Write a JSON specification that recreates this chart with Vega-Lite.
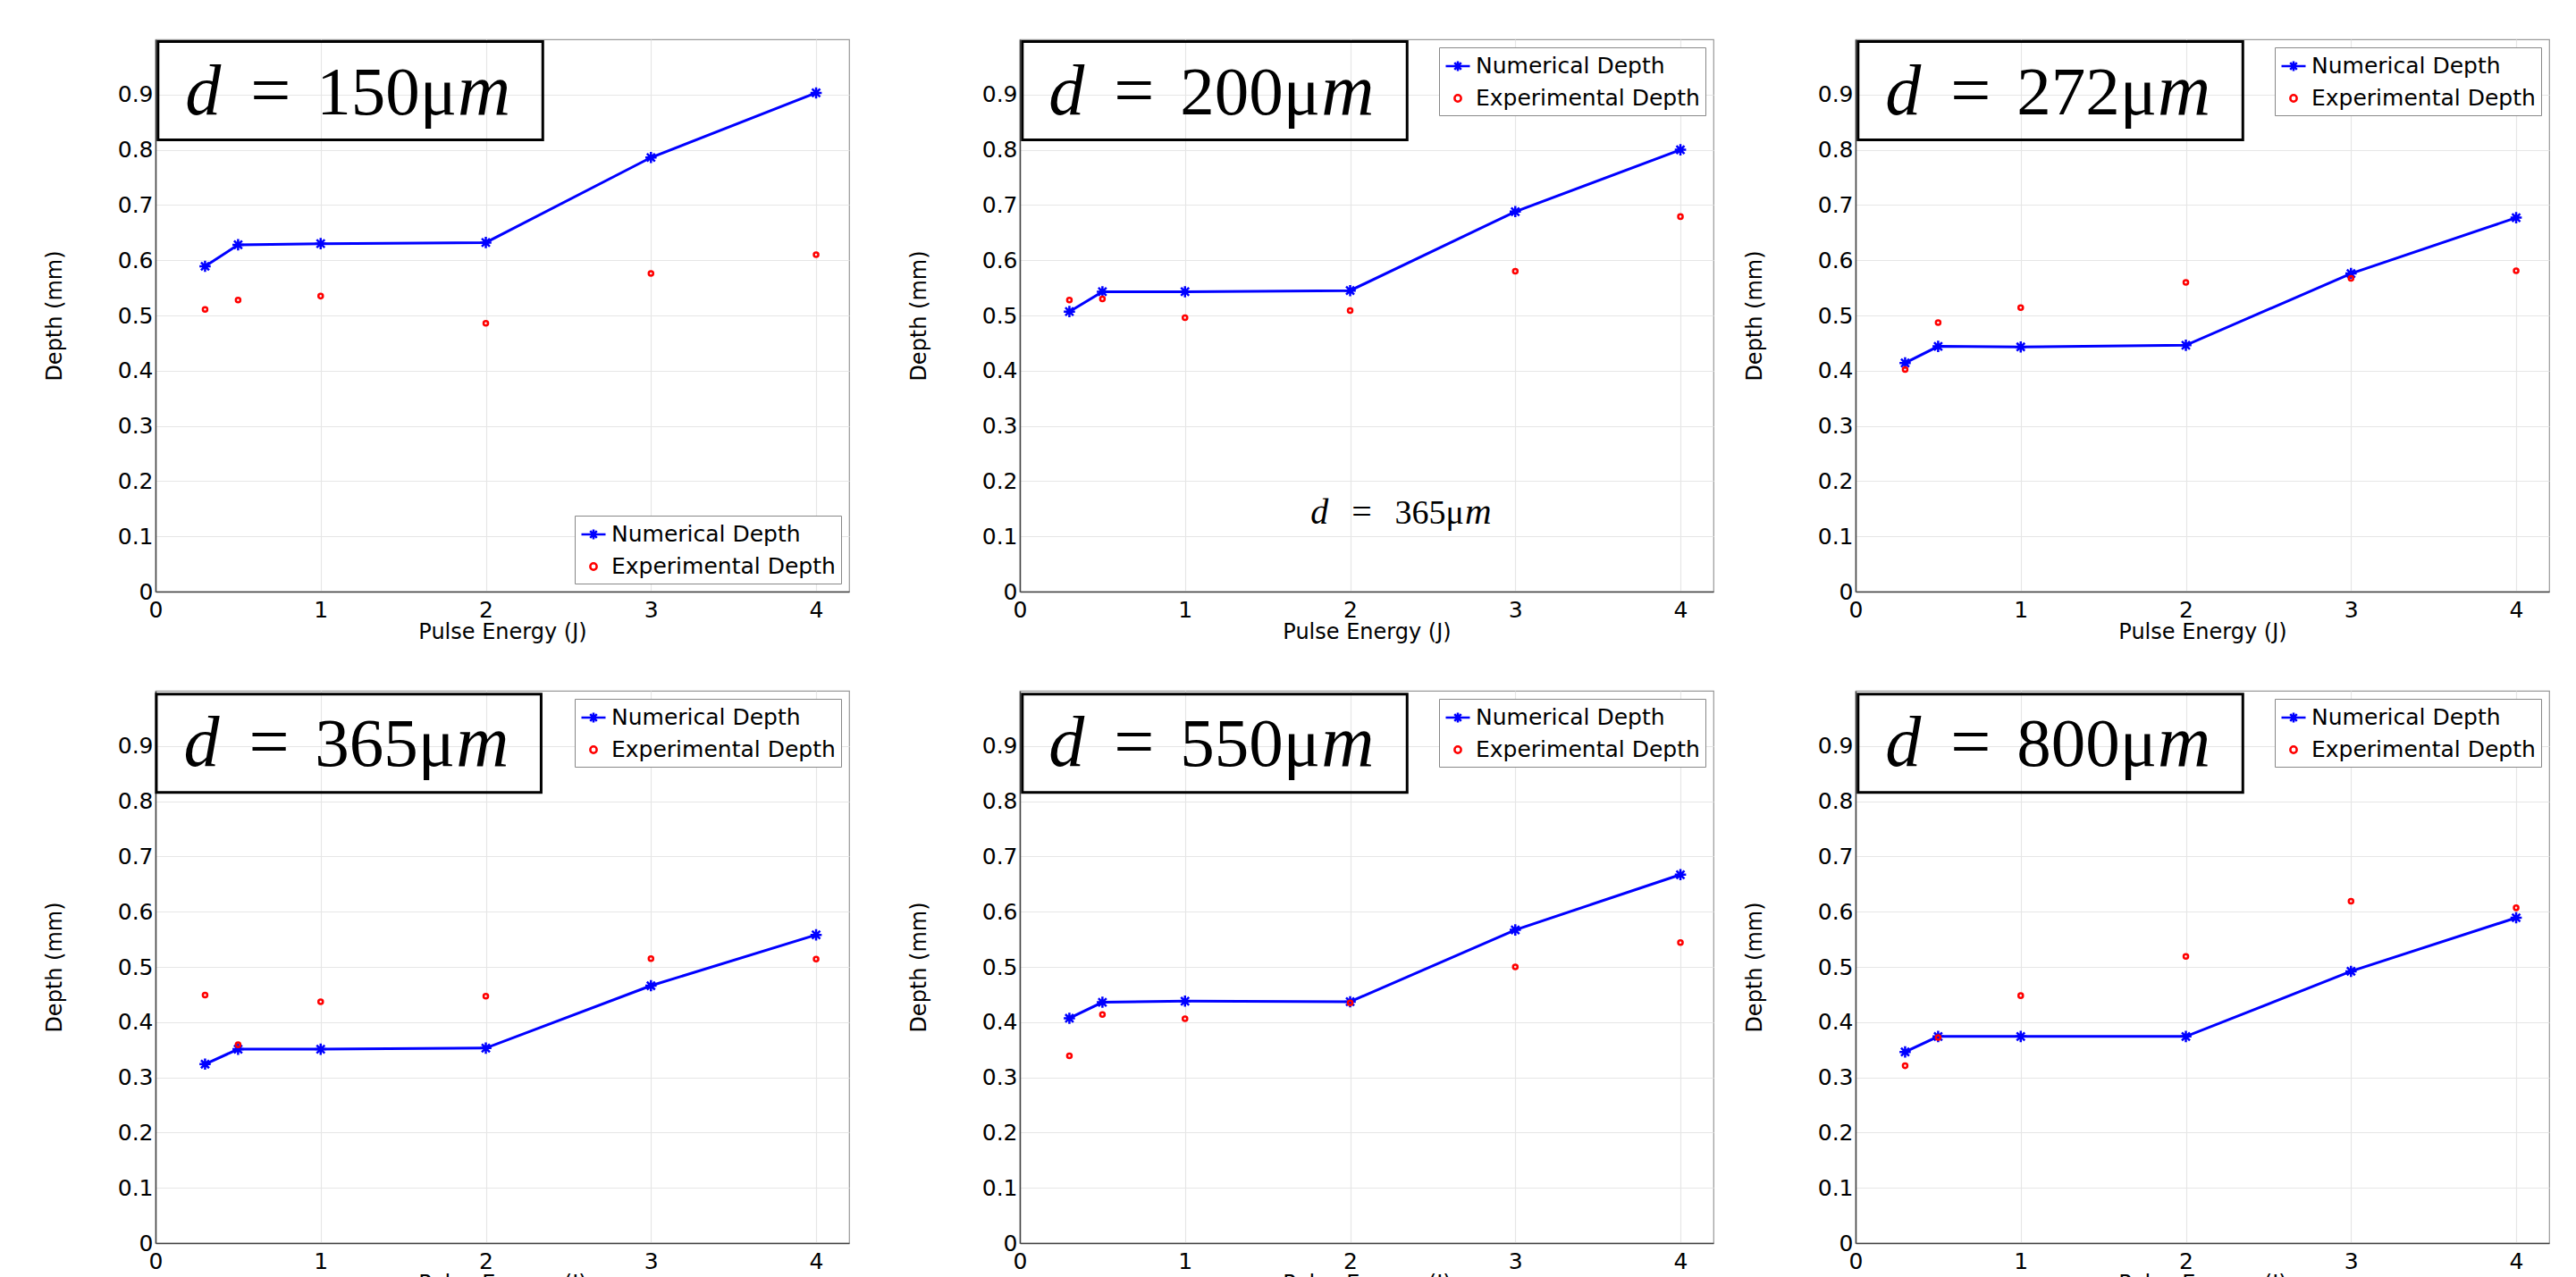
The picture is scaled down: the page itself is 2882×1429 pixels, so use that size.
{
"$schema": "https://vega.github.io/schema/vega-lite/v6.json",
"background": "white",
"padding": {"left": 48, "top": 43, "right": 0, "bottom": 0},
"data": {"values": [
{"panel":"150","series":"Numerical Depth","energy":0.3,"depth":0.589},
{"panel":"150","series":"Numerical Depth","energy":0.5,"depth":0.628},
{"panel":"150","series":"Numerical Depth","energy":1,"depth":0.630},
{"panel":"150","series":"Numerical Depth","energy":2,"depth":0.632},
{"panel":"150","series":"Numerical Depth","energy":3,"depth":0.786},
{"panel":"150","series":"Numerical Depth","energy":4,"depth":0.903},
{"panel":"150","series":"Experimental Depth","energy":0.3,"depth":0.511},
{"panel":"150","series":"Experimental Depth","energy":0.5,"depth":0.528},
{"panel":"150","series":"Experimental Depth","energy":1,"depth":0.535},
{"panel":"150","series":"Experimental Depth","energy":2,"depth":0.486},
{"panel":"150","series":"Experimental Depth","energy":3,"depth":0.576},
{"panel":"150","series":"Experimental Depth","energy":4,"depth":0.610},
{"panel":"200","series":"Numerical Depth","energy":0.3,"depth":0.507},
{"panel":"200","series":"Numerical Depth","energy":0.5,"depth":0.543},
{"panel":"200","series":"Numerical Depth","energy":1,"depth":0.543},
{"panel":"200","series":"Numerical Depth","energy":2,"depth":0.545},
{"panel":"200","series":"Numerical Depth","energy":3,"depth":0.688},
{"panel":"200","series":"Numerical Depth","energy":4,"depth":0.800},
{"panel":"200","series":"Experimental Depth","energy":0.3,"depth":0.528},
{"panel":"200","series":"Experimental Depth","energy":0.5,"depth":0.530},
{"panel":"200","series":"Experimental Depth","energy":1,"depth":0.496},
{"panel":"200","series":"Experimental Depth","energy":2,"depth":0.509},
{"panel":"200","series":"Experimental Depth","energy":3,"depth":0.580},
{"panel":"200","series":"Experimental Depth","energy":4,"depth":0.679},
{"panel":"272","series":"Numerical Depth","energy":0.3,"depth":0.414},
{"panel":"272","series":"Numerical Depth","energy":0.5,"depth":0.444},
{"panel":"272","series":"Numerical Depth","energy":1,"depth":0.443},
{"panel":"272","series":"Numerical Depth","energy":2,"depth":0.446},
{"panel":"272","series":"Numerical Depth","energy":3,"depth":0.576},
{"panel":"272","series":"Numerical Depth","energy":4,"depth":0.677},
{"panel":"272","series":"Experimental Depth","energy":0.3,"depth":0.402},
{"panel":"272","series":"Experimental Depth","energy":0.5,"depth":0.487},
{"panel":"272","series":"Experimental Depth","energy":1,"depth":0.514},
{"panel":"272","series":"Experimental Depth","energy":2,"depth":0.560},
{"panel":"272","series":"Experimental Depth","energy":3,"depth":0.567},
{"panel":"272","series":"Experimental Depth","energy":4,"depth":0.581},
{"panel":"365","series":"Numerical Depth","energy":0.3,"depth":0.324},
{"panel":"365","series":"Numerical Depth","energy":0.5,"depth":0.351},
{"panel":"365","series":"Numerical Depth","energy":1,"depth":0.351},
{"panel":"365","series":"Numerical Depth","energy":2,"depth":0.353},
{"panel":"365","series":"Numerical Depth","energy":3,"depth":0.466},
{"panel":"365","series":"Numerical Depth","energy":4,"depth":0.558},
{"panel":"365","series":"Experimental Depth","energy":0.3,"depth":0.449},
{"panel":"365","series":"Experimental Depth","energy":0.5,"depth":0.359},
{"panel":"365","series":"Experimental Depth","energy":1,"depth":0.437},
{"panel":"365","series":"Experimental Depth","energy":2,"depth":0.447},
{"panel":"365","series":"Experimental Depth","energy":3,"depth":0.515},
{"panel":"365","series":"Experimental Depth","energy":4,"depth":0.514},
{"panel":"550","series":"Numerical Depth","energy":0.3,"depth":0.407},
{"panel":"550","series":"Numerical Depth","energy":0.5,"depth":0.436},
{"panel":"550","series":"Numerical Depth","energy":1,"depth":0.438},
{"panel":"550","series":"Numerical Depth","energy":2,"depth":0.437},
{"panel":"550","series":"Numerical Depth","energy":3,"depth":0.567},
{"panel":"550","series":"Numerical Depth","energy":4,"depth":0.667},
{"panel":"550","series":"Experimental Depth","energy":0.3,"depth":0.339},
{"panel":"550","series":"Experimental Depth","energy":0.5,"depth":0.414},
{"panel":"550","series":"Experimental Depth","energy":1,"depth":0.406},
{"panel":"550","series":"Experimental Depth","energy":2,"depth":0.435},
{"panel":"550","series":"Experimental Depth","energy":3,"depth":0.500},
{"panel":"550","series":"Experimental Depth","energy":4,"depth":0.544},
{"panel":"800","series":"Numerical Depth","energy":0.3,"depth":0.346},
{"panel":"800","series":"Numerical Depth","energy":0.5,"depth":0.374},
{"panel":"800","series":"Numerical Depth","energy":1,"depth":0.374},
{"panel":"800","series":"Numerical Depth","energy":2,"depth":0.374},
{"panel":"800","series":"Numerical Depth","energy":3,"depth":0.492},
{"panel":"800","series":"Numerical Depth","energy":4,"depth":0.589},
{"panel":"800","series":"Experimental Depth","energy":0.3,"depth":0.321},
{"panel":"800","series":"Experimental Depth","energy":0.5,"depth":0.372},
{"panel":"800","series":"Experimental Depth","energy":1,"depth":0.448},
{"panel":"800","series":"Experimental Depth","energy":2,"depth":0.519},
{"panel":"800","series":"Experimental Depth","energy":3,"depth":0.619},
{"panel":"800","series":"Experimental Depth","energy":4,"depth":0.607}
]},
"spacing": 52,
"resolve": {"scale": {"color": "independent", "shape": "independent"}, "legend": {"color": "independent", "shape": "independent"}},
"vconcat": [
{"spacing": 32,
 "resolve": {"scale": {"color": "independent", "shape": "independent"}, "legend": {"color": "independent", "shape": "independent"}},
 "hconcat": [
 {"spacing": 64,
  "resolve": {"scale": {"color": "independent", "shape": "independent"}, "legend": {"color": "independent", "shape": "independent"}},
  "hconcat": [
  {"width": 776, "height": 618,
   "layer": [
    {"transform": [{"filter": "datum.panel === '150' && datum.series === 'Numerical Depth'"}], "mark": {"type": "line", "color": "#0000ff", "strokeWidth": 3},
     "encoding": {
      "x": {"field": "energy", "type": "quantitative", "scale": {"domain": [0, 4.2], "nice": false, "zero": false}, "axis": {"title": "Pulse Energy (J)", "values": [0,1,2,3,4], "format": "~g"}},
      "y": {"field": "depth", "type": "quantitative", "scale": {"domain": [0, 1], "nice": false}, "axis": {"title": "Depth (mm)", "values": [0,0.1,0.2,0.3,0.4,0.5,0.6,0.7,0.8,0.9], "format": "~g"}}}},
    {"transform": [{"filter": "datum.panel === '150' && datum.series === 'Numerical Depth'"}], "mark": {"type": "point", "filled": false, "color": "#0000ff", "strokeWidth": 2.5, "size": 196, "opacity": 1, "shape": "M-0.9,0L0.9,0M0,-0.9L0,0.9M-0.64,-0.64L0.64,0.64M-0.64,0.64L0.64,-0.64"},
     "encoding": {"x": {"field": "energy", "type": "quantitative"}, "y": {"field": "depth", "type": "quantitative"}}},
    {"transform": [{"filter": "datum.panel === '150' && datum.series === 'Experimental Depth'"}], "mark": {"type": "point", "filled": false, "color": "#ff0000", "strokeWidth": 2.5, "size": 196, "opacity": 1, "shape": "M0.36,0A0.36,0.36 0 1,1 -0.36,0A0.36,0.36 0 1,1 0.36,0Z"},
     "encoding": {"x": {"field": "energy", "type": "quantitative"}, "y": {"field": "depth", "type": "quantitative"}}},
    {"transform": [{"filter": "datum.panel === 'none'"}], "mark": {"type": "point", "filled": false, "strokeWidth": 2.5, "opacity": 1},
     "encoding": {
      "x": {"field": "energy", "type": "quantitative"}, "y": {"field": "depth", "type": "quantitative"},
      "color": {"field": "series", "type": "nominal", "scale": {"domain": ["Numerical Depth", "Experimental Depth"], "range": ["#0000ff", "#ff0000"]}, "legend": {"title": null, "orient": "bottom-right"}},
      "shape": {"field": "series", "type": "nominal", "scale": {"domain": ["Numerical Depth", "Experimental Depth"], "range": ["M-1,0L1,0M0,-0.4L0,0.4M-0.28,-0.28L0.28,0.28M-0.28,0.28L0.28,-0.28", "M0.27,0A0.27,0.27 0 1,1 -0.27,0A0.27,0.27 0 1,1 0.27,0Z"]}, "legend": {"title": null, "orient": "bottom-right"}}
     }},
    {"transform": [{"filter": "datum.panel === '150' && datum.energy === 4 && datum.series === 'Numerical Depth'"}], "mark": {"type": "rect", "fill": "transparent", "stroke": "black", "strokeWidth": 3}, "encoding": {"x": {"datum": 0.015, "type": "quantitative"}, "x2": {"datum": 2.345}, "y": {"datum": 0.996, "type": "quantitative"}, "y2": {"datum": 0.818}}},
    {"transform": [{"filter": "datum.panel === '150' && datum.energy === 4 && datum.series === 'Numerical Depth'"}], "mark": {"type": "text", "text": "d", "font": "Liberation Serif", "fontStyle": "italic", "fontSize": 80, "align": "left", "baseline": "alphabetic", "color": "black"}, "encoding": {"x": {"datum": 0.18, "type": "quantitative"}, "y": {"datum": 0.8635, "type": "quantitative"}}},
    {"transform": [{"filter": "datum.panel === '150' && datum.energy === 4 && datum.series === 'Numerical Depth'"}], "mark": {"type": "text", "text": "=", "font": "Liberation Serif", "fontSize": 80, "align": "left", "baseline": "alphabetic", "color": "black"}, "encoding": {"x": {"datum": 0.575, "type": "quantitative"}, "y": {"datum": 0.8635, "type": "quantitative"}}},
    {"transform": [{"filter": "datum.panel === '150' && datum.energy === 4 && datum.series === 'Numerical Depth'"}], "mark": {"type": "text", "text": "150μ", "font": "Liberation Serif", "fontSize": 77, "align": "left", "baseline": "alphabetic", "color": "black"}, "encoding": {"x": {"datum": 0.975, "type": "quantitative"}, "y": {"datum": 0.8635, "type": "quantitative"}}},
    {"transform": [{"filter": "datum.panel === '150' && datum.energy === 4 && datum.series === 'Numerical Depth'"}], "mark": {"type": "text", "text": "m", "font": "Liberation Serif", "fontStyle": "italic", "fontSize": 82, "align": "left", "baseline": "alphabetic", "color": "black"}, "encoding": {"x": {"datum": 1.83, "type": "quantitative"}, "y": {"datum": 0.8635, "type": "quantitative"}}}
   ]},
  {"width": 776, "height": 618,
   "layer": [
    {"transform": [{"filter": "datum.panel === '200' && datum.series === 'Numerical Depth'"}], "mark": {"type": "line", "color": "#0000ff", "strokeWidth": 3},
     "encoding": {
      "x": {"field": "energy", "type": "quantitative", "scale": {"domain": [0, 4.2], "nice": false, "zero": false}, "axis": {"title": "Pulse Energy (J)", "values": [0,1,2,3,4], "format": "~g"}},
      "y": {"field": "depth", "type": "quantitative", "scale": {"domain": [0, 1], "nice": false}, "axis": {"title": "Depth (mm)", "values": [0,0.1,0.2,0.3,0.4,0.5,0.6,0.7,0.8,0.9], "format": "~g"}}}},
    {"transform": [{"filter": "datum.panel === '200' && datum.series === 'Numerical Depth'"}], "mark": {"type": "point", "filled": false, "color": "#0000ff", "strokeWidth": 2.5, "size": 196, "opacity": 1, "shape": "M-0.9,0L0.9,0M0,-0.9L0,0.9M-0.64,-0.64L0.64,0.64M-0.64,0.64L0.64,-0.64"},
     "encoding": {"x": {"field": "energy", "type": "quantitative"}, "y": {"field": "depth", "type": "quantitative"}}},
    {"transform": [{"filter": "datum.panel === '200' && datum.series === 'Experimental Depth'"}], "mark": {"type": "point", "filled": false, "color": "#ff0000", "strokeWidth": 2.5, "size": 196, "opacity": 1, "shape": "M0.36,0A0.36,0.36 0 1,1 -0.36,0A0.36,0.36 0 1,1 0.36,0Z"},
     "encoding": {"x": {"field": "energy", "type": "quantitative"}, "y": {"field": "depth", "type": "quantitative"}}},
    {"transform": [{"filter": "datum.panel === 'none'"}], "mark": {"type": "point", "filled": false, "strokeWidth": 2.5, "opacity": 1},
     "encoding": {
      "x": {"field": "energy", "type": "quantitative"}, "y": {"field": "depth", "type": "quantitative"},
      "color": {"field": "series", "type": "nominal", "scale": {"domain": ["Numerical Depth", "Experimental Depth"], "range": ["#0000ff", "#ff0000"]}, "legend": {"title": null, "orient": "top-right"}},
      "shape": {"field": "series", "type": "nominal", "scale": {"domain": ["Numerical Depth", "Experimental Depth"], "range": ["M-1,0L1,0M0,-0.4L0,0.4M-0.28,-0.28L0.28,0.28M-0.28,0.28L0.28,-0.28", "M0.27,0A0.27,0.27 0 1,1 -0.27,0A0.27,0.27 0 1,1 0.27,0Z"]}, "legend": {"title": null, "orient": "top-right"}}
     }},
    {"transform": [{"filter": "datum.panel === '200' && datum.energy === 4 && datum.series === 'Numerical Depth'"}], "mark": {"type": "rect", "fill": "transparent", "stroke": "black", "strokeWidth": 3}, "encoding": {"x": {"datum": 0.015, "type": "quantitative"}, "x2": {"datum": 2.345}, "y": {"datum": 0.996, "type": "quantitative"}, "y2": {"datum": 0.818}}},
    {"transform": [{"filter": "datum.panel === '200' && datum.energy === 4 && datum.series === 'Numerical Depth'"}], "mark": {"type": "text", "text": "d", "font": "Liberation Serif", "fontStyle": "italic", "fontSize": 80, "align": "left", "baseline": "alphabetic", "color": "black"}, "encoding": {"x": {"datum": 0.175, "type": "quantitative"}, "y": {"datum": 0.8635, "type": "quantitative"}}},
    {"transform": [{"filter": "datum.panel === '200' && datum.energy === 4 && datum.series === 'Numerical Depth'"}], "mark": {"type": "text", "text": "=", "font": "Liberation Serif", "fontSize": 80, "align": "left", "baseline": "alphabetic", "color": "black"}, "encoding": {"x": {"datum": 0.57, "type": "quantitative"}, "y": {"datum": 0.8635, "type": "quantitative"}}},
    {"transform": [{"filter": "datum.panel === '200' && datum.energy === 4 && datum.series === 'Numerical Depth'"}], "mark": {"type": "text", "text": "200μ", "font": "Liberation Serif", "fontSize": 77, "align": "left", "baseline": "alphabetic", "color": "black"}, "encoding": {"x": {"datum": 0.97, "type": "quantitative"}, "y": {"datum": 0.8635, "type": "quantitative"}}},
    {"transform": [{"filter": "datum.panel === '200' && datum.energy === 4 && datum.series === 'Numerical Depth'"}], "mark": {"type": "text", "text": "m", "font": "Liberation Serif", "fontStyle": "italic", "fontSize": 82, "align": "left", "baseline": "alphabetic", "color": "black"}, "encoding": {"x": {"datum": 1.825, "type": "quantitative"}, "y": {"datum": 0.8635, "type": "quantitative"}}},
    {"transform": [{"filter": "datum.panel === '200' && datum.energy === 4 && datum.series === 'Numerical Depth'"}], "mark": {"type": "text", "text": "d", "font": "Liberation Serif", "fontStyle": "italic", "fontSize": 40, "align": "left", "baseline": "alphabetic", "color": "black"}, "encoding": {"x": {"datum": 1.76, "type": "quantitative"}, "y": {"datum": 0.123, "type": "quantitative"}}},
    {"transform": [{"filter": "datum.panel === '200' && datum.energy === 4 && datum.series === 'Numerical Depth'"}], "mark": {"type": "text", "text": "=", "font": "Liberation Serif", "fontSize": 40, "align": "left", "baseline": "alphabetic", "color": "black"}, "encoding": {"x": {"datum": 2.01, "type": "quantitative"}, "y": {"datum": 0.123, "type": "quantitative"}}},
    {"transform": [{"filter": "datum.panel === '200' && datum.energy === 4 && datum.series === 'Numerical Depth'"}], "mark": {"type": "text", "text": "365μ", "font": "Liberation Serif", "fontSize": 38, "align": "left", "baseline": "alphabetic", "color": "black"}, "encoding": {"x": {"datum": 2.27, "type": "quantitative"}, "y": {"datum": 0.123, "type": "quantitative"}}},
    {"transform": [{"filter": "datum.panel === '200' && datum.energy === 4 && datum.series === 'Numerical Depth'"}], "mark": {"type": "text", "text": "m", "font": "Liberation Serif", "fontStyle": "italic", "fontSize": 41, "align": "left", "baseline": "alphabetic", "color": "black"}, "encoding": {"x": {"datum": 2.695, "type": "quantitative"}, "y": {"datum": 0.123, "type": "quantitative"}}}
   ]}
  ]},
  {"width": 776, "height": 618,
   "layer": [
    {"transform": [{"filter": "datum.panel === '272' && datum.series === 'Numerical Depth'"}], "mark": {"type": "line", "color": "#0000ff", "strokeWidth": 3},
     "encoding": {
      "x": {"field": "energy", "type": "quantitative", "scale": {"domain": [0, 4.2], "nice": false, "zero": false}, "axis": {"title": "Pulse Energy (J)", "values": [0,1,2,3,4], "format": "~g"}},
      "y": {"field": "depth", "type": "quantitative", "scale": {"domain": [0, 1], "nice": false}, "axis": {"title": "Depth (mm)", "values": [0,0.1,0.2,0.3,0.4,0.5,0.6,0.7,0.8,0.9], "format": "~g"}}}},
    {"transform": [{"filter": "datum.panel === '272' && datum.series === 'Numerical Depth'"}], "mark": {"type": "point", "filled": false, "color": "#0000ff", "strokeWidth": 2.5, "size": 196, "opacity": 1, "shape": "M-0.9,0L0.9,0M0,-0.9L0,0.9M-0.64,-0.64L0.64,0.64M-0.64,0.64L0.64,-0.64"},
     "encoding": {"x": {"field": "energy", "type": "quantitative"}, "y": {"field": "depth", "type": "quantitative"}}},
    {"transform": [{"filter": "datum.panel === '272' && datum.series === 'Experimental Depth'"}], "mark": {"type": "point", "filled": false, "color": "#ff0000", "strokeWidth": 2.5, "size": 196, "opacity": 1, "shape": "M0.36,0A0.36,0.36 0 1,1 -0.36,0A0.36,0.36 0 1,1 0.36,0Z"},
     "encoding": {"x": {"field": "energy", "type": "quantitative"}, "y": {"field": "depth", "type": "quantitative"}}},
    {"transform": [{"filter": "datum.panel === 'none'"}], "mark": {"type": "point", "filled": false, "strokeWidth": 2.5, "opacity": 1},
     "encoding": {
      "x": {"field": "energy", "type": "quantitative"}, "y": {"field": "depth", "type": "quantitative"},
      "color": {"field": "series", "type": "nominal", "scale": {"domain": ["Numerical Depth", "Experimental Depth"], "range": ["#0000ff", "#ff0000"]}, "legend": {"title": null, "orient": "top-right"}},
      "shape": {"field": "series", "type": "nominal", "scale": {"domain": ["Numerical Depth", "Experimental Depth"], "range": ["M-1,0L1,0M0,-0.4L0,0.4M-0.28,-0.28L0.28,0.28M-0.28,0.28L0.28,-0.28", "M0.27,0A0.27,0.27 0 1,1 -0.27,0A0.27,0.27 0 1,1 0.27,0Z"]}, "legend": {"title": null, "orient": "top-right"}}
     }},
    {"transform": [{"filter": "datum.panel === '272' && datum.energy === 4 && datum.series === 'Numerical Depth'"}], "mark": {"type": "rect", "fill": "transparent", "stroke": "black", "strokeWidth": 3}, "encoding": {"x": {"datum": 0.015, "type": "quantitative"}, "x2": {"datum": 2.345}, "y": {"datum": 0.996, "type": "quantitative"}, "y2": {"datum": 0.818}}},
    {"transform": [{"filter": "datum.panel === '272' && datum.energy === 4 && datum.series === 'Numerical Depth'"}], "mark": {"type": "text", "text": "d", "font": "Liberation Serif", "fontStyle": "italic", "fontSize": 80, "align": "left", "baseline": "alphabetic", "color": "black"}, "encoding": {"x": {"datum": 0.18, "type": "quantitative"}, "y": {"datum": 0.8635, "type": "quantitative"}}},
    {"transform": [{"filter": "datum.panel === '272' && datum.energy === 4 && datum.series === 'Numerical Depth'"}], "mark": {"type": "text", "text": "=", "font": "Liberation Serif", "fontSize": 80, "align": "left", "baseline": "alphabetic", "color": "black"}, "encoding": {"x": {"datum": 0.575, "type": "quantitative"}, "y": {"datum": 0.8635, "type": "quantitative"}}},
    {"transform": [{"filter": "datum.panel === '272' && datum.energy === 4 && datum.series === 'Numerical Depth'"}], "mark": {"type": "text", "text": "272μ", "font": "Liberation Serif", "fontSize": 77, "align": "left", "baseline": "alphabetic", "color": "black"}, "encoding": {"x": {"datum": 0.975, "type": "quantitative"}, "y": {"datum": 0.8635, "type": "quantitative"}}},
    {"transform": [{"filter": "datum.panel === '272' && datum.energy === 4 && datum.series === 'Numerical Depth'"}], "mark": {"type": "text", "text": "m", "font": "Liberation Serif", "fontStyle": "italic", "fontSize": 82, "align": "left", "baseline": "alphabetic", "color": "black"}, "encoding": {"x": {"datum": 1.83, "type": "quantitative"}, "y": {"datum": 0.8635, "type": "quantitative"}}}
   ]}
 ]},
{"spacing": 32,
 "resolve": {"scale": {"color": "independent", "shape": "independent"}, "legend": {"color": "independent", "shape": "independent"}},
 "hconcat": [
 {"spacing": 64,
  "resolve": {"scale": {"color": "independent", "shape": "independent"}, "legend": {"color": "independent", "shape": "independent"}},
  "hconcat": [
  {"width": 776, "height": 618,
   "layer": [
    {"transform": [{"filter": "datum.panel === '365' && datum.series === 'Numerical Depth'"}], "mark": {"type": "line", "color": "#0000ff", "strokeWidth": 3},
     "encoding": {
      "x": {"field": "energy", "type": "quantitative", "scale": {"domain": [0, 4.2], "nice": false, "zero": false}, "axis": {"title": "Pulse Energy (J)", "values": [0,1,2,3,4], "format": "~g"}},
      "y": {"field": "depth", "type": "quantitative", "scale": {"domain": [0, 1], "nice": false}, "axis": {"title": "Depth (mm)", "values": [0,0.1,0.2,0.3,0.4,0.5,0.6,0.7,0.8,0.9], "format": "~g"}}}},
    {"transform": [{"filter": "datum.panel === '365' && datum.series === 'Numerical Depth'"}], "mark": {"type": "point", "filled": false, "color": "#0000ff", "strokeWidth": 2.5, "size": 196, "opacity": 1, "shape": "M-0.9,0L0.9,0M0,-0.9L0,0.9M-0.64,-0.64L0.64,0.64M-0.64,0.64L0.64,-0.64"},
     "encoding": {"x": {"field": "energy", "type": "quantitative"}, "y": {"field": "depth", "type": "quantitative"}}},
    {"transform": [{"filter": "datum.panel === '365' && datum.series === 'Experimental Depth'"}], "mark": {"type": "point", "filled": false, "color": "#ff0000", "strokeWidth": 2.5, "size": 196, "opacity": 1, "shape": "M0.36,0A0.36,0.36 0 1,1 -0.36,0A0.36,0.36 0 1,1 0.36,0Z"},
     "encoding": {"x": {"field": "energy", "type": "quantitative"}, "y": {"field": "depth", "type": "quantitative"}}},
    {"transform": [{"filter": "datum.panel === 'none'"}], "mark": {"type": "point", "filled": false, "strokeWidth": 2.5, "opacity": 1},
     "encoding": {
      "x": {"field": "energy", "type": "quantitative"}, "y": {"field": "depth", "type": "quantitative"},
      "color": {"field": "series", "type": "nominal", "scale": {"domain": ["Numerical Depth", "Experimental Depth"], "range": ["#0000ff", "#ff0000"]}, "legend": {"title": null, "orient": "top-right"}},
      "shape": {"field": "series", "type": "nominal", "scale": {"domain": ["Numerical Depth", "Experimental Depth"], "range": ["M-1,0L1,0M0,-0.4L0,0.4M-0.28,-0.28L0.28,0.28M-0.28,0.28L0.28,-0.28", "M0.27,0A0.27,0.27 0 1,1 -0.27,0A0.27,0.27 0 1,1 0.27,0Z"]}, "legend": {"title": null, "orient": "top-right"}}
     }},
    {"transform": [{"filter": "datum.panel === '365' && datum.energy === 4 && datum.series === 'Numerical Depth'"}], "mark": {"type": "rect", "fill": "transparent", "stroke": "black", "strokeWidth": 3}, "encoding": {"x": {"datum": 0.005, "type": "quantitative"}, "x2": {"datum": 2.335}, "y": {"datum": 0.994, "type": "quantitative"}, "y2": {"datum": 0.816}}},
    {"transform": [{"filter": "datum.panel === '365' && datum.energy === 4 && datum.series === 'Numerical Depth'"}], "mark": {"type": "text", "text": "d", "font": "Liberation Serif", "fontStyle": "italic", "fontSize": 80, "align": "left", "baseline": "alphabetic", "color": "black"}, "encoding": {"x": {"datum": 0.17, "type": "quantitative"}, "y": {"datum": 0.8635, "type": "quantitative"}}},
    {"transform": [{"filter": "datum.panel === '365' && datum.energy === 4 && datum.series === 'Numerical Depth'"}], "mark": {"type": "text", "text": "=", "font": "Liberation Serif", "fontSize": 80, "align": "left", "baseline": "alphabetic", "color": "black"}, "encoding": {"x": {"datum": 0.565, "type": "quantitative"}, "y": {"datum": 0.8635, "type": "quantitative"}}},
    {"transform": [{"filter": "datum.panel === '365' && datum.energy === 4 && datum.series === 'Numerical Depth'"}], "mark": {"type": "text", "text": "365μ", "font": "Liberation Serif", "fontSize": 77, "align": "left", "baseline": "alphabetic", "color": "black"}, "encoding": {"x": {"datum": 0.965, "type": "quantitative"}, "y": {"datum": 0.8635, "type": "quantitative"}}},
    {"transform": [{"filter": "datum.panel === '365' && datum.energy === 4 && datum.series === 'Numerical Depth'"}], "mark": {"type": "text", "text": "m", "font": "Liberation Serif", "fontStyle": "italic", "fontSize": 82, "align": "left", "baseline": "alphabetic", "color": "black"}, "encoding": {"x": {"datum": 1.82, "type": "quantitative"}, "y": {"datum": 0.8635, "type": "quantitative"}}}
   ]},
  {"width": 776, "height": 618,
   "layer": [
    {"transform": [{"filter": "datum.panel === '550' && datum.series === 'Numerical Depth'"}], "mark": {"type": "line", "color": "#0000ff", "strokeWidth": 3},
     "encoding": {
      "x": {"field": "energy", "type": "quantitative", "scale": {"domain": [0, 4.2], "nice": false, "zero": false}, "axis": {"title": "Pulse Energy (J)", "values": [0,1,2,3,4], "format": "~g"}},
      "y": {"field": "depth", "type": "quantitative", "scale": {"domain": [0, 1], "nice": false}, "axis": {"title": "Depth (mm)", "values": [0,0.1,0.2,0.3,0.4,0.5,0.6,0.7,0.8,0.9], "format": "~g"}}}},
    {"transform": [{"filter": "datum.panel === '550' && datum.series === 'Numerical Depth'"}], "mark": {"type": "point", "filled": false, "color": "#0000ff", "strokeWidth": 2.5, "size": 196, "opacity": 1, "shape": "M-0.9,0L0.9,0M0,-0.9L0,0.9M-0.64,-0.64L0.64,0.64M-0.64,0.64L0.64,-0.64"},
     "encoding": {"x": {"field": "energy", "type": "quantitative"}, "y": {"field": "depth", "type": "quantitative"}}},
    {"transform": [{"filter": "datum.panel === '550' && datum.series === 'Experimental Depth'"}], "mark": {"type": "point", "filled": false, "color": "#ff0000", "strokeWidth": 2.5, "size": 196, "opacity": 1, "shape": "M0.36,0A0.36,0.36 0 1,1 -0.36,0A0.36,0.36 0 1,1 0.36,0Z"},
     "encoding": {"x": {"field": "energy", "type": "quantitative"}, "y": {"field": "depth", "type": "quantitative"}}},
    {"transform": [{"filter": "datum.panel === 'none'"}], "mark": {"type": "point", "filled": false, "strokeWidth": 2.5, "opacity": 1},
     "encoding": {
      "x": {"field": "energy", "type": "quantitative"}, "y": {"field": "depth", "type": "quantitative"},
      "color": {"field": "series", "type": "nominal", "scale": {"domain": ["Numerical Depth", "Experimental Depth"], "range": ["#0000ff", "#ff0000"]}, "legend": {"title": null, "orient": "top-right"}},
      "shape": {"field": "series", "type": "nominal", "scale": {"domain": ["Numerical Depth", "Experimental Depth"], "range": ["M-1,0L1,0M0,-0.4L0,0.4M-0.28,-0.28L0.28,0.28M-0.28,0.28L0.28,-0.28", "M0.27,0A0.27,0.27 0 1,1 -0.27,0A0.27,0.27 0 1,1 0.27,0Z"]}, "legend": {"title": null, "orient": "top-right"}}
     }},
    {"transform": [{"filter": "datum.panel === '550' && datum.energy === 4 && datum.series === 'Numerical Depth'"}], "mark": {"type": "rect", "fill": "transparent", "stroke": "black", "strokeWidth": 3}, "encoding": {"x": {"datum": 0.015, "type": "quantitative"}, "x2": {"datum": 2.345}, "y": {"datum": 0.994, "type": "quantitative"}, "y2": {"datum": 0.816}}},
    {"transform": [{"filter": "datum.panel === '550' && datum.energy === 4 && datum.series === 'Numerical Depth'"}], "mark": {"type": "text", "text": "d", "font": "Liberation Serif", "fontStyle": "italic", "fontSize": 80, "align": "left", "baseline": "alphabetic", "color": "black"}, "encoding": {"x": {"datum": 0.175, "type": "quantitative"}, "y": {"datum": 0.8635, "type": "quantitative"}}},
    {"transform": [{"filter": "datum.panel === '550' && datum.energy === 4 && datum.series === 'Numerical Depth'"}], "mark": {"type": "text", "text": "=", "font": "Liberation Serif", "fontSize": 80, "align": "left", "baseline": "alphabetic", "color": "black"}, "encoding": {"x": {"datum": 0.57, "type": "quantitative"}, "y": {"datum": 0.8635, "type": "quantitative"}}},
    {"transform": [{"filter": "datum.panel === '550' && datum.energy === 4 && datum.series === 'Numerical Depth'"}], "mark": {"type": "text", "text": "550μ", "font": "Liberation Serif", "fontSize": 77, "align": "left", "baseline": "alphabetic", "color": "black"}, "encoding": {"x": {"datum": 0.97, "type": "quantitative"}, "y": {"datum": 0.8635, "type": "quantitative"}}},
    {"transform": [{"filter": "datum.panel === '550' && datum.energy === 4 && datum.series === 'Numerical Depth'"}], "mark": {"type": "text", "text": "m", "font": "Liberation Serif", "fontStyle": "italic", "fontSize": 82, "align": "left", "baseline": "alphabetic", "color": "black"}, "encoding": {"x": {"datum": 1.825, "type": "quantitative"}, "y": {"datum": 0.8635, "type": "quantitative"}}}
   ]}
  ]},
  {"width": 776, "height": 618,
   "layer": [
    {"transform": [{"filter": "datum.panel === '800' && datum.series === 'Numerical Depth'"}], "mark": {"type": "line", "color": "#0000ff", "strokeWidth": 3},
     "encoding": {
      "x": {"field": "energy", "type": "quantitative", "scale": {"domain": [0, 4.2], "nice": false, "zero": false}, "axis": {"title": "Pulse Energy (J)", "values": [0,1,2,3,4], "format": "~g"}},
      "y": {"field": "depth", "type": "quantitative", "scale": {"domain": [0, 1], "nice": false}, "axis": {"title": "Depth (mm)", "values": [0,0.1,0.2,0.3,0.4,0.5,0.6,0.7,0.8,0.9], "format": "~g"}}}},
    {"transform": [{"filter": "datum.panel === '800' && datum.series === 'Numerical Depth'"}], "mark": {"type": "point", "filled": false, "color": "#0000ff", "strokeWidth": 2.5, "size": 196, "opacity": 1, "shape": "M-0.9,0L0.9,0M0,-0.9L0,0.9M-0.64,-0.64L0.64,0.64M-0.64,0.64L0.64,-0.64"},
     "encoding": {"x": {"field": "energy", "type": "quantitative"}, "y": {"field": "depth", "type": "quantitative"}}},
    {"transform": [{"filter": "datum.panel === '800' && datum.series === 'Experimental Depth'"}], "mark": {"type": "point", "filled": false, "color": "#ff0000", "strokeWidth": 2.5, "size": 196, "opacity": 1, "shape": "M0.36,0A0.36,0.36 0 1,1 -0.36,0A0.36,0.36 0 1,1 0.36,0Z"},
     "encoding": {"x": {"field": "energy", "type": "quantitative"}, "y": {"field": "depth", "type": "quantitative"}}},
    {"transform": [{"filter": "datum.panel === 'none'"}], "mark": {"type": "point", "filled": false, "strokeWidth": 2.5, "opacity": 1},
     "encoding": {
      "x": {"field": "energy", "type": "quantitative"}, "y": {"field": "depth", "type": "quantitative"},
      "color": {"field": "series", "type": "nominal", "scale": {"domain": ["Numerical Depth", "Experimental Depth"], "range": ["#0000ff", "#ff0000"]}, "legend": {"title": null, "orient": "top-right"}},
      "shape": {"field": "series", "type": "nominal", "scale": {"domain": ["Numerical Depth", "Experimental Depth"], "range": ["M-1,0L1,0M0,-0.4L0,0.4M-0.28,-0.28L0.28,0.28M-0.28,0.28L0.28,-0.28", "M0.27,0A0.27,0.27 0 1,1 -0.27,0A0.27,0.27 0 1,1 0.27,0Z"]}, "legend": {"title": null, "orient": "top-right"}}
     }},
    {"transform": [{"filter": "datum.panel === '800' && datum.energy === 4 && datum.series === 'Numerical Depth'"}], "mark": {"type": "rect", "fill": "transparent", "stroke": "black", "strokeWidth": 3}, "encoding": {"x": {"datum": 0.015, "type": "quantitative"}, "x2": {"datum": 2.345}, "y": {"datum": 0.994, "type": "quantitative"}, "y2": {"datum": 0.816}}},
    {"transform": [{"filter": "datum.panel === '800' && datum.energy === 4 && datum.series === 'Numerical Depth'"}], "mark": {"type": "text", "text": "d", "font": "Liberation Serif", "fontStyle": "italic", "fontSize": 80, "align": "left", "baseline": "alphabetic", "color": "black"}, "encoding": {"x": {"datum": 0.18, "type": "quantitative"}, "y": {"datum": 0.8635, "type": "quantitative"}}},
    {"transform": [{"filter": "datum.panel === '800' && datum.energy === 4 && datum.series === 'Numerical Depth'"}], "mark": {"type": "text", "text": "=", "font": "Liberation Serif", "fontSize": 80, "align": "left", "baseline": "alphabetic", "color": "black"}, "encoding": {"x": {"datum": 0.575, "type": "quantitative"}, "y": {"datum": 0.8635, "type": "quantitative"}}},
    {"transform": [{"filter": "datum.panel === '800' && datum.energy === 4 && datum.series === 'Numerical Depth'"}], "mark": {"type": "text", "text": "800μ", "font": "Liberation Serif", "fontSize": 77, "align": "left", "baseline": "alphabetic", "color": "black"}, "encoding": {"x": {"datum": 0.975, "type": "quantitative"}, "y": {"datum": 0.8635, "type": "quantitative"}}},
    {"transform": [{"filter": "datum.panel === '800' && datum.energy === 4 && datum.series === 'Numerical Depth'"}], "mark": {"type": "text", "text": "m", "font": "Liberation Serif", "fontStyle": "italic", "fontSize": 82, "align": "left", "baseline": "alphabetic", "color": "black"}, "encoding": {"x": {"datum": 1.83, "type": "quantitative"}, "y": {"datum": 0.8635, "type": "quantitative"}}}
   ]}
 ]}
],
"config": {
 "font": "DejaVu Sans",
 "view": {"stroke": "#9a9a9a", "strokeWidth": 1.2},
 "axis": {"labelFont": "DejaVu Sans", "labelFontSize": 25, "labelColor": "#000000", "titleFont": "DejaVu Sans", "titleFontSize": 24, "titleFontWeight": "normal", "titleColor": "#000000", "gridColor": "#e6e6e6", "gridWidth": 1.2, "domainColor": "#404040", "domainWidth": 1.5, "ticks": false, "labelFlush": false, "labelOverlap": false},
 "axisX": {"labelPadding": 8, "titlePadding": 0},
 "axisY": {"labelPadding": 3, "titlePadding": 58},
 "legend": {"labelFont": "DejaVu Sans", "labelFontSize": 25, "labelColor": "#000000", "labelLimit": 400, "padding": 6, "rowPadding": 8, "symbolSize": 729, "labelOffset": 5, "strokeColor": "#888888", "fillColor": "white", "offset": 9, "symbolStrokeWidth": 2.5, "cornerRadius": 0}
}
}
